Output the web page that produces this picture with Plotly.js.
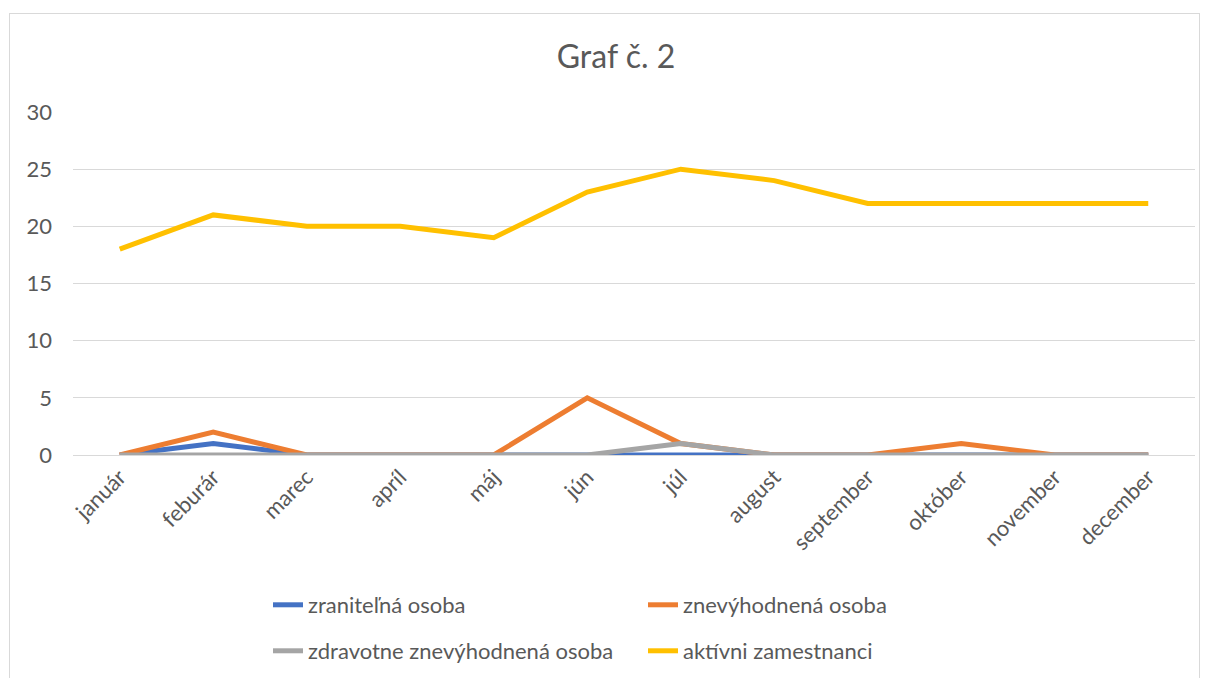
<!DOCTYPE html>
<html><head><meta charset="utf-8">
<script src="https://cdn.plot.ly/plotly-3.0.1.min.js"></script>
<style>
html,body{margin:0;padding:0;background:#fff;}
#frame{position:absolute;left:9px;top:13px;width:1191px;height:680px;border:1px solid #d9d9d9;box-sizing:border-box;}
#chart{position:absolute;left:0;top:0;width:1211px;height:678px;}
</style>
</head><body>
<div id="frame"></div>
<div id="chart"></div>
<script>
const months = ["január","feburár","marec","apríl","máj","jún","júl","august","september","október","november","december"];
const zranitelna = [0,1,0,0,0,0,0,0,0,0,0,0];
const znevyhodnena = [0,2,0,0,0,5,1,0,0,1,0,0];
const zdravotne = [0,0,0,0,0,0,1,0,0,0,0,0];
const aktivni = [18,21,20,20,19,23,25,24,22,22,22,22];
const yTicks = [0,5,10,15,20,25,30];

const names = ["zraniteľná osoba","znevýhodnená osoba","zdravotne znevýhodnená osoba","aktívni zamestnanci"];
const colors = ["#4472C4","#ED7D31","#A5A5A5","#FFC000"];
const series = [zranitelna, znevyhodnena, zdravotne, aktivni];
const legends = ["legend","legend","legend2","legend2"];

const traces = series.map((s,i)=>({
  x: months, y: s, type:"scatter", mode:"lines", name: names[i],
  line:{color:colors[i], width:5, shape:"linear"},
  legend: legends[i], hoverinfo:"skip"
}));

const fam = "Lato, 'Open Sans', sans-serif";
const font = {family:fam, color:"#595959", size:22};
const legFont = {family:fam, color:"#595959", size:22};
const legCommon = {orientation:"h", xanchor:"left", yanchor:"middle", entrywidth:330, entrywidthmode:"pixels", itemwidth:30, font:legFont, traceorder:"normal", bgcolor:"rgba(0,0,0,0)", x:0.1738};
const layout = {
  width:1211, height:678,
  paper_bgcolor:"rgba(0,0,0,0)", plot_bgcolor:"rgba(0,0,0,0)",
  margin:{l:73, r:16, t:112, b:223, autoexpand:false},
  title:{text:"Graf č. 2", font:{family:fam, color:"#595959", size:32}, x:0.5087, xanchor:"center", y:0.916, yanchor:"middle"},
  font: font,
  showlegend:true,
  xaxis:{type:"category", range:[-0.5,11.5], tickangle:-45, automargin:false, showgrid:false, zeroline:false, showline:false, ticks:"", ticklabelstandoff:4, tickfont:font, fixedrange:true},
  yaxis:{range:[0,30], tickvals:yTicks, automargin:false, showgrid:true, gridcolor:"#d9d9d9", gridwidth:1, zeroline:true, zerolinecolor:"#d9d9d9", zerolinewidth:1, showline:false, ticks:"", tickfont:font, ticklabelstandoff:20, fixedrange:true},
  legend:Object.assign({}, legCommon, {y:-0.4373}),
  legend2:Object.assign({}, legCommon, {y:-0.5714})
};
Plotly.newPlot("chart", traces, layout, {displayModeBar:false, staticPlot:true});
</script>
</body></html>
